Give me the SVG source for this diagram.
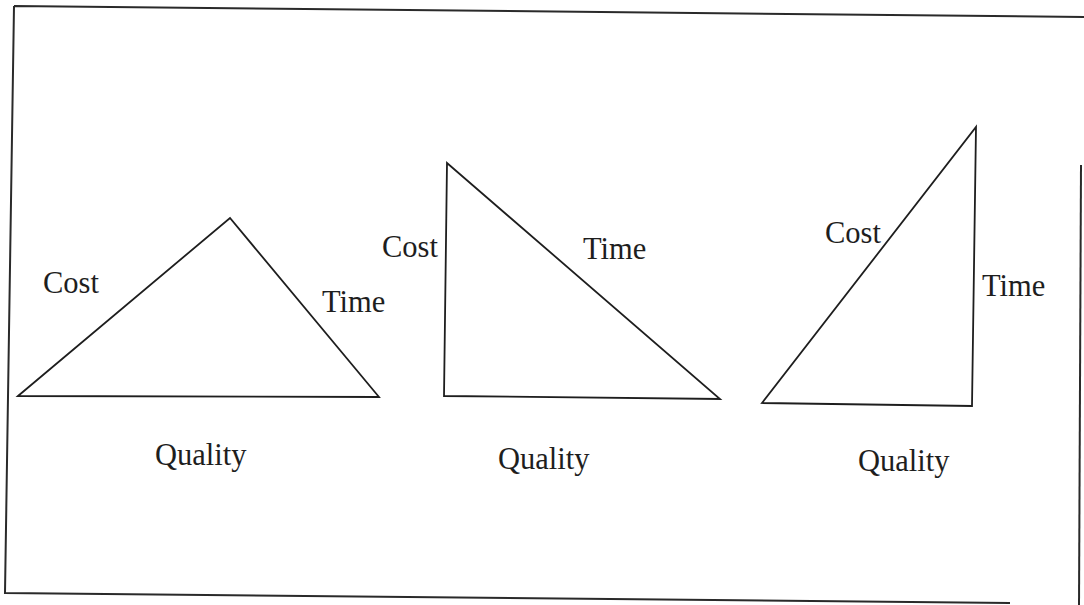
<svg xmlns="http://www.w3.org/2000/svg" width="1084" height="605" viewBox="0 0 1084 605">
<style>
.frame{fill:none;stroke:#2a2a2a;stroke-width:2}
.tri{fill:none;stroke:#1e1e1e;stroke-width:1.8;stroke-linejoin:miter}
.lbl{font-family:"Liberation Serif","Times New Roman",serif;font-size:30.5px;fill:#1e1e1e}
</style>
<rect width="1084" height="605" fill="#ffffff"/>
<g id="frame">
<path class="frame" d="M14,6 L1084,17 M14,6 L5,593 L1010,603"/>
<path class="frame" d="M1081,165 L1079,605"/>
</g>
<g id="triangle-1">
<polygon class="tri" points="18,396 230,218 379,397"/>
<text class="lbl" x="43" y="293">Cost</text>
<text class="lbl" x="322" y="312">Time</text>
<text class="lbl" x="155" y="465">Quality</text>
</g>
<g id="triangle-2">
<polygon class="tri" points="447,163 444,396 720,399"/>
<text class="lbl" x="382" y="257">Cost</text>
<text class="lbl" x="583" y="259">Time</text>
<text class="lbl" x="498" y="469">Quality</text>
</g>
<g id="triangle-3">
<polygon class="tri" points="762,403 976,127 972,406"/>
<text class="lbl" x="825" y="243">Cost</text>
<text class="lbl" x="982" y="296">Time</text>
<text class="lbl" x="858" y="471">Quality</text>
</g>
</svg>
